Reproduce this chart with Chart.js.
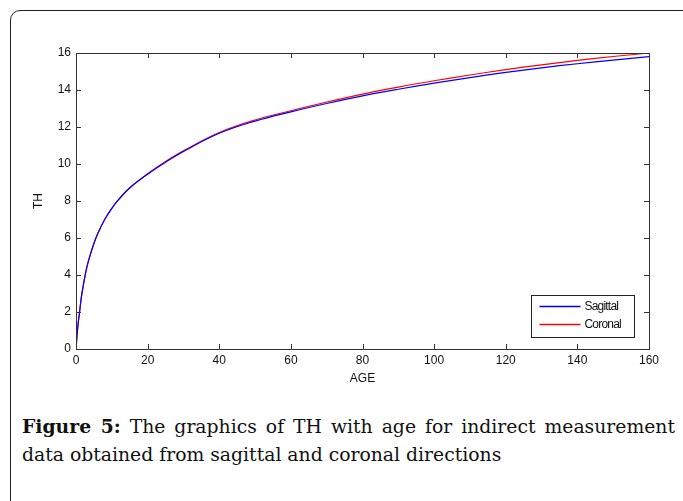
<!DOCTYPE html>
<html>
<head>
<meta charset="utf-8">
<script src="https://cdn.jsdelivr.net/npm/chart.js@4"></script>
<style>
  html, body { margin: 0; padding: 0; background: #fff; overflow: hidden; }
  body { width: 683px; height: 501px; position: relative; }
  .frame {
    position: absolute; left: 10px; top: 10px; width: 720px; height: 540px;
    border: 1.5px solid #222; border-radius: 10px; box-sizing: border-box;
  }
  #wrap { position: absolute; left: 0; top: 0; width: 683px; height: 400px; }
  .caption {
    position: absolute; left: 22px; top: 412px; width: 653px;
    font-family: "DejaVu Serif", "Liberation Serif", serif; font-size: 18.8px;
    line-height: 28px; color: #111;
  }
  .caption .l1 { text-align: justify; text-align-last: justify; white-space: nowrap; }
  .caption b { font-weight: bold; }
</style>
</head>
<body>
<div class="frame"></div>
<div id="wrap"><canvas id="myChart" width="683" height="400"></canvas></div>
<div class="caption">
  <div class="l1"><b>Figure 5:</b> The graphics of TH with age for indirect measurement</div>
  <div>data obtained from sagittal and coronal directions</div>
</div>
<script>
// values
let ages = [0, 0.5, 1, 1.5, 2, 3, 4, 5, 6, 8, 10, 12, 15, 20, 25, 30, 40, 50, 60, 70, 80, 90, 100, 110, 120, 130, 140, 150, 160];
let sagittal = [0, 1.2, 2.0, 2.8, 3.4, 4.4, 5.1, 5.7, 6.2, 7.0, 7.6, 8.1, 8.7, 9.45, 10.1, 10.68, 11.66, 12.32, 12.82, 13.27, 13.68, 14.04, 14.37, 14.67, 14.95, 15.2, 15.42, 15.62, 15.8];
let coronal = [0, 1.2, 2.0, 2.8, 3.4, 4.4, 5.1, 5.7, 6.2, 7.0, 7.6, 8.1, 8.72, 9.47, 10.13, 10.71, 11.7, 12.38, 12.88, 13.35, 13.78, 14.16, 14.5, 14.81, 15.1, 15.36, 15.6, 15.81, 16.0];
let seriesNames = ["Sagittal", "Coronal"];
let seriesColors = ["#0000ff", "#ff0000"];
let xTicks = [0, 20, 40, 60, 80, 100, 120, 140, 160];
let yTicks = [0, 2, 4, 6, 8, 10, 12, 14, 16];

let font = "Liberation Sans, Arial, sans-serif";

// matlab style box with ticks pointing inward
let boxPlugin = {
  id: "box",
  afterDraw(chart) {
    let ctx = chart.ctx;
    let a = chart.chartArea;
    let x = chart.scales.x, y = chart.scales.y;
    ctx.save();
    ctx.strokeStyle = "#333";
    ctx.lineWidth = 1;
    ctx.strokeRect(Math.round(a.left) + 0.5, Math.round(a.top) + 0.5, Math.round(a.right - a.left), Math.round(a.bottom - a.top));
    ctx.beginPath();
    xTicks.forEach(v => {
      let px = Math.round(x.getPixelForValue(v)) + 0.5;
      ctx.moveTo(px, a.bottom); ctx.lineTo(px, a.bottom - 5);
      ctx.moveTo(px, a.top); ctx.lineTo(px, a.top + 5);
    });
    yTicks.forEach(v => {
      let py = Math.round(y.getPixelForValue(v)) + 0.5;
      ctx.moveTo(a.left, py); ctx.lineTo(a.left + 5, py);
      ctx.moveTo(a.right, py); ctx.lineTo(a.right - 5, py);
    });
    ctx.stroke();

    // legend in the lower right corner
    let lx = 531.5, ly = 295.5, lw = 103, lh = 42;
    ctx.fillStyle = "#fff";
    ctx.fillRect(lx, ly, lw, lh);
    ctx.strokeStyle = "#222";
    ctx.strokeRect(lx, ly, lw, lh);
    ctx.font = "12px " + font;
    ctx.textBaseline = "middle";
    ctx.letterSpacing = "-0.8px";
    for (let i = 0; i < seriesNames.length; i++) {
      let yy = ly + 11 + i * 18;
      ctx.beginPath();
      ctx.strokeStyle = seriesColors[i];
      ctx.lineWidth = 1.5;
      ctx.moveTo(lx + 8, yy);
      ctx.lineTo(lx + 49, yy);
      ctx.stroke();
      ctx.fillStyle = "#111";
      ctx.fillText(seriesNames[i], lx + 53, yy);
    }
    ctx.restore();
  }
};

new Chart("myChart", {
  type: "line",
  data: {
    labels: ages,
    datasets: [
      { label: seriesNames[0], data: ages.map((a, i) => ({ x: a, y: sagittal[i] })), borderColor: seriesColors[0], borderWidth: 1.2, pointRadius: 0, tension: 0.4, fill: false },
      { label: seriesNames[1], data: ages.map((a, i) => ({ x: a, y: coronal[i] })), borderColor: seriesColors[1], borderWidth: 1.2, pointRadius: 0, tension: 0.4, fill: false }
    ]
  },
  options: {
    responsive: false,
    animation: false,
    layout: { padding: { left: 0, top: 53, right: 34, bottom: 11 } },
    plugins: { legend: { display: false }, tooltip: { enabled: false } },
    scales: {
      x: {
        type: "linear", min: 0, max: 160,
        grid: { display: false, drawTicks: false },
        border: { display: false },
        afterBuildTicks(s) { s.ticks = xTicks.map(v => ({ value: v })); },
        afterFit(s) { s.height = 40; },
        ticks: { color: "#111", font: { family: font, size: 12 }, padding: 4, maxRotation: 0 },
        title: { display: true, text: "AGE", color: "#111", font: { family: font, size: 12 }, padding: { top: 0, bottom: 3 } }
      },
      y: {
        min: 0, max: 16,
        grid: { display: false, drawTicks: false },
        border: { display: false },
        afterBuildTicks(s) { s.ticks = yTicks.map(v => ({ value: v })); },
        afterFit(s) { s.width = 76; },
        ticks: { color: "#111", font: { family: font, size: 12 }, padding: 5 },
        title: { display: true, text: "TH", color: "#111", font: { family: font, size: 12 }, padding: { top: 31, bottom: 0 } }
      }
    }
  },
  plugins: [boxPlugin]
});
</script>
</body>
</html>
